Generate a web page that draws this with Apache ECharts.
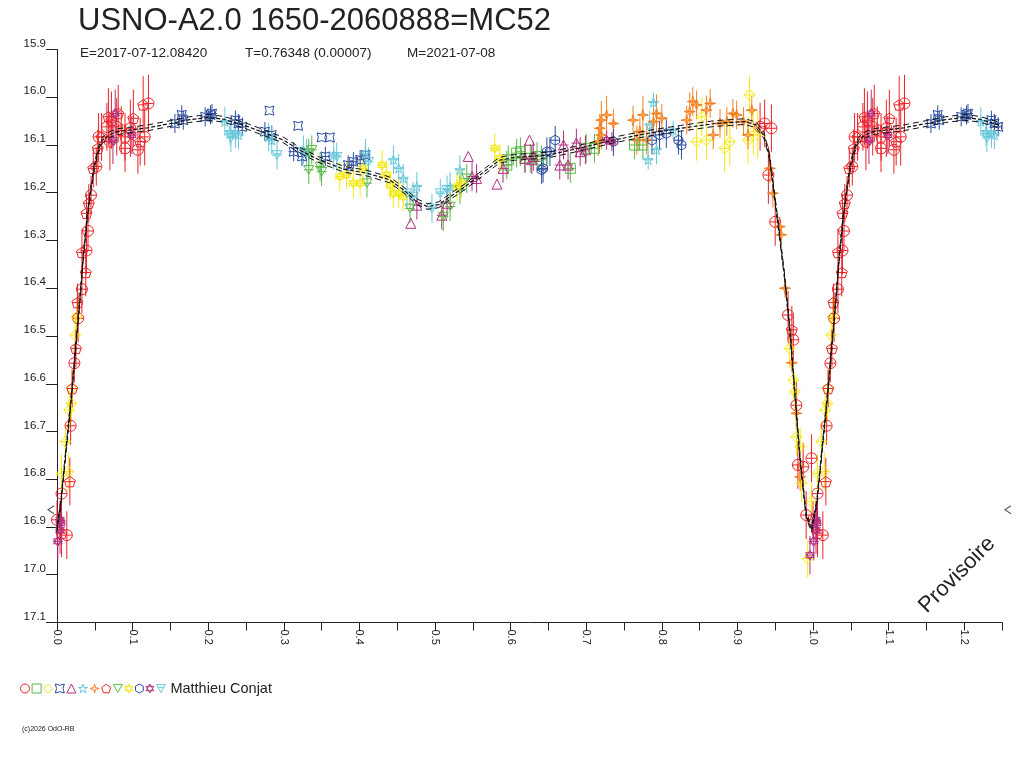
<!DOCTYPE html>
<html><head><meta charset="utf-8">
<script src="https://cdn.jsdelivr.net/npm/echarts@6/dist/echarts.min.js"></script>
<style>html,body{margin:0;padding:0;background:#fff}#c{width:1024px;height:768px}</style>
</head><body><div id="c"></div><script>
// ---- data: [phase, magnitude, error] ----
const redCircles = [
 [0.000,16.885,0.04],[0.006,16.83,0.05],[0.013,16.917,0.05],[0.018,16.688,0.04],[0.023,16.557,0.04],
 [0.028,16.463,0.05],[0.033,16.402,0.05],[0.039,16.321,0.05],[0.041,16.28,0.04],[0.045,16.205,0.04],
 [0.052,16.145,0.04],[0.055,16.083,0.05],[0.066,16.062,0.05],[0.070,16.093,0.06],[0.079,16.062,0.06],
 [0.085,16.069,0.05],[0.090,16.107,0.05],[0.097,16.065,0.06],[0.107,16.11,0.05],[0.116,16.083,0.06],
 [0.121,16.013,0.06],[0.930,16.062,0.05],[0.936,16.055,0.05],[0.945,16.065,0.05],[0.941,16.163,0.06],
 [0.950,16.261,0.05],[0.967,16.456,0.05],[0.974,16.508,0.05],[0.978,16.645,0.05],[0.980,16.77,0.05],
 [0.987,16.774,0.05],[0.991,16.875,0.05],[0.998,16.756,0.05]
];
const greenSquares = [
 [0.595,16.142,0.03],[0.597,16.131,0.03],[0.608,16.117,0.03],[0.613,16.114,0.03],[0.619,16.128,0.03],
 [0.626,16.128,0.03],[0.635,16.124,0.03],[0.641,16.131,0.03],[0.679,16.149,0.03],[0.700,16.107,0.03],
 [0.711,16.107,0.03],[0.764,16.1,0.03],[0.775,16.1,0.03]
];
const yellowDiamonds = [
 [0.006,16.788,0.04],[0.015,16.784,0.04],[0.011,16.721,0.04],[0.016,16.655,0.04],[0.019,16.641,0.04],
 [0.020,16.61,0.04],[0.024,16.498,0.04],[0.026,16.46,0.04],[0.969,16.526,0.04],[0.974,16.592,0.04],
 [0.976,16.617,0.04],[0.978,16.711,0.04],[0.983,16.732,0.04],[0.985,16.808,0.04],[0.998,16.847,0.04],
 [0.993,16.966,0.04],[0.846,16.093,0.04],[0.859,16.09,0.04],[0.853,16.041,0.04],[0.883,16.107,0.05],
 [0.890,16.093,0.05],[0.914,16.09,0.05],[0.916,15.995,0.04],[0.921,16.072,0.05],[0.927,16.079,0.05]
];
const blueAstroids = [
 [0.156,16.055,0.02],[0.165,16.037,0.02],[0.167,16.048,0.02],[0.196,16.041,0.02],[0.203,16.037,0.02],
 [0.205,16.034,0.02],[0.236,16.048,0.02],[0.240,16.055,0.02],[0.245,16.062,0.02],[0.275,16.072,0.02],
 [0.281,16.028,0],[0.284,16.079,0.02],[0.313,16.114,0.02],[0.319,16.06,0],[0.324,16.124,0.02],
 [0.350,16.084,0],[0.361,16.084,0],[0.355,16.124,0.02],[0.385,16.142,0.02],[0.392,16.135,0.02],
 [0.401,16.131,0.02],[0.408,16.121,0.02]
];
const purpleTriangles = [
 [0.468,16.264,0],[0.476,16.226,0.03],[0.509,16.247,0.03],[0.516,16.222,0.03],[0.544,16.124,0],
 [0.549,16.166,0.03],[0.555,16.17,0.03],[0.582,16.182,0],[0.590,16.149,0.03],[0.619,16.128,0.03],
 [0.625,16.09,0],[0.628,16.131,0.03],[0.630,16.124,0.03],[0.665,16.142,0.03],[0.670,16.1,0.03],
 [0.676,16.142,0.03],[0.687,16.096,0.03],[0.692,16.114,0.03],[0.699,16.11,0.03]
];
const cyanStars = [
 [0.222,16.051,0.03],[0.229,16.072,0.03],[0.236,16.076,0.03],[0.240,16.079,0.03],[0.280,16.083,0.03],
 [0.284,16.09,0.03],[0.326,16.11,0.03],[0.330,16.117,0.03],[0.366,16.121,0.03],[0.408,16.117,0.03],
 [0.445,16.131,0.03],[0.452,16.149,0.03],[0.458,16.17,0.03],[0.476,16.187,0.03],[0.520,16.187,0.03],
 [0.533,16.152,0.03],[0.782,16.131,0.02],[0.784,16.058,0.03],[0.789,16.011,0.02],[0.793,16.11,0.03],
 [0.815,16.069,0.02]
];
const orangeStars4 = [
 [0.716,16.093,0.03],[0.718,16.065,0.03],[0.720,16.048,0.04],[0.720,16.079,0.03],[0.727,16.037,0.04],
 [0.736,16.055,0.03],[0.762,16.048,0.03],[0.767,16.09,0.03],[0.771,16.072,0.03],[0.775,16.037,0.04],
 [0.780,16.09,0.03],[0.789,16.051,0.03],[0.793,16.034,0.04],[0.800,16.044,0.03],[0.833,16.048,0.03],
 [0.837,16.03,0.04],[0.841,16.009,0.03],[0.846,16.016,0.03],[0.859,16.027,0.03],[0.864,16.013,0.03],
 [0.868,16.079,0.03],[0.877,16.055,0.03],[0.886,16.051,0.03],[0.894,16.034,0.03],[0.899,16.037,0.03],
 [0.908,16.051,0.03],[0.914,16.079,0.03],[0.919,16.027,0.03],[0.943,16.149,0.03],[0.947,16.201,0.03],
 [0.956,16.271,0.02],[0.958,16.288,0.02],[0.963,16.4,0.02],[0.972,16.556,0.02],[0.978,16.662,0.02],
 [0.983,16.795,0.03]
];
const redPentagons = [
 [0.006,16.913,0.05],[0.017,16.805,0.05],[0.020,16.61,0.04],[0.025,16.526,0.04],[0.027,16.43,0.04],
 [0.038,16.367,0.05],[0.033,16.325,0.05],[0.039,16.243,0.04],[0.042,16.222,0.04],[0.048,16.149,0.04],
 [0.054,16.107,0.04],[0.059,16.083,0.05],[0.068,16.041,0.06],[0.072,16.048,0.06],[0.081,16.034,0.06],
 [0.090,16.083,0.05],[0.101,16.044,0.06],[0.110,16.093,0.05],[0.114,16.016,0.06],[0.972,16.487,0.05]
];
const greenTrianglesDown = [
 [0.333,16.117,0.03],[0.337,16.11,0.03],[0.333,16.152,0.03],[0.348,16.145,0.03],[0.350,16.156,0.03],
 [0.410,16.18,0.03],[0.467,16.233,0.03],[0.511,16.25,0.03],[0.520,16.229,0.03],[0.533,16.194,0.03],
 [0.542,16.17,0.03]
];
const yellowHexagrams = [
 [0.374,16.166,0.03],[0.383,16.163,0.03],[0.392,16.18,0.03],[0.401,16.18,0.03],[0.405,16.149,0.03],
 [0.430,16.142,0.03],[0.436,16.163,0.03],[0.441,16.184,0.03],[0.445,16.201,0.03],[0.452,16.201,0.03],
 [0.458,16.208,0.03],[0.529,16.187,0.03],[0.535,16.18,0.03],[0.579,16.107,0.03],[0.586,16.128,0.03]
];
const blueHexagons = [
 [0.641,16.152,0.03],[0.643,16.149,0.03],[0.648,16.114,0.03],[0.652,16.114,0.03],[0.659,16.09,0.03],
 [0.736,16.093,0.03],[0.787,16.09,0.03],[0.797,16.079,0.03],[0.806,16.076,0.03],[0.822,16.09,0.03],
 [0.826,16.1,0.03]
];
const purpleHexagrams = [
 [0.004,16.885,0.04],[0.004,16.906,0.05],[0.001,16.93,0.04],[0.996,16.959,0.04],[0.005,16.892,0.04],
 [0.077,16.034,0.05],[0.074,16.09,0.05],[0.099,16.079,0.04],[0.727,16.09,0.02],[0.734,16.093,0.02]
];
const cyanTrianglesDown = [
 [0.291,16.121,0.03],[0.412,16.135,0.03],[0.463,16.201,0.03],[0.471,16.208,0.03],[0.496,16.233,0.03],
 [0.507,16.201,0.03],[0.516,16.194,0.03],[0.230,16.085,0.03],[0.370,16.125,0.03]
];
// model light curve (phase, magnitude)
const curvePhase = [0.000,0.005,0.010,0.015,0.020,0.025,0.030,0.035,0.040,0.045,0.050,0.055,0.060,0.070,0.080,0.100,0.120,0.150,0.175,0.200,0.220,0.250,0.270,0.300,0.320,0.345,0.380,0.410,0.440,0.460,0.475,0.490,0.505,0.520,0.540,0.565,0.585,0.605,0.650,0.690,0.735,0.780,0.825,0.870,0.910,0.925,0.935,0.942,0.947,0.955,0.962,0.969,0.976,0.983,0.991,0.998];
const curveMag   = [16.905,16.85,16.77,16.69,16.61,16.52,16.43,16.33,16.25,16.19,16.14,16.11,16.09,16.078,16.072,16.068,16.064,16.055,16.047,16.042,16.046,16.06,16.072,16.09,16.11,16.13,16.151,16.159,16.173,16.196,16.218,16.229,16.225,16.208,16.187,16.156,16.132,16.126,16.121,16.107,16.09,16.076,16.065,16.055,16.051,16.058,16.08,16.12,16.18,16.28,16.37,16.48,16.62,16.76,16.875,16.905];
const curveSigma = 0.006;
const minMarks = [[0,16.864],[1.25,16.864]];
const xTicks = [0.0,0.1,0.2,0.3,0.4,0.5,0.6,0.7,0.8,0.9,1.0,1.1,1.2];

// ---- styles ----
const C = {red:'#ec2227',green:'#5ab946',yellow:'#f4ea10',blue:'#2d4d9e',purple:'#b22f7f',cyan:'#66c7db',orange:'#f4801f'};
const P = {
 astroid:'path://M0,0 Q50,28 100,0 Q72,50 100,100 Q50,72 0,100 Q28,50 0,0 Z',
 star5:'path://M50,0 L61.2,34.6 L97.6,34.5 L68.1,55.9 L79.4,90.5 L50,69 L20.6,90.5 L31.9,55.9 L2.4,34.5 L38.8,34.6 Z',
 star4:'path://M50,0 L60,40 L100,50 L60,60 L50,100 L40,60 L0,50 L40,40 Z',
 pent:'path://M50,0 L97.6,34.5 L79.4,90.5 L20.6,90.5 L2.4,34.5 Z',
 tdown:'path://M0,0 L100,0 L50,87 Z',
 hexa:'path://M50,0 L93.3,75 L6.7,75 Z M50,100 L6.7,25 L93.3,25 Z',
 hexagon:'path://M50,0 L93.3,25 L93.3,75 L50,100 L6.7,75 L6.7,25 Z',
 tdown2:'path://M0,0 L100,0 L50,87 Z M22,30 L78,30'
};
const defs = [
 {name:'S1', color:C.red, symbol:'circle', size:11, data:redCircles},
 {name:'S2', color:C.green, symbol:'rect', size:10, data:greenSquares},
 {name:'S3', color:C.yellow, symbol:'diamond', size:11, data:yellowDiamonds},
 {name:'S4', color:C.blue, symbol:P.astroid, size:9, data:blueAstroids},
 {name:'S5', color:C.purple, symbol:'triangle', size:10, data:purpleTriangles},
 {name:'S6', color:C.cyan, symbol:P.star5, size:10, data:cyanStars},
 {name:'S7', color:C.orange, symbol:P.star4, size:11, data:orangeStars4},
 {name:'S8', color:C.red, symbol:P.pent, size:11, data:redPentagons},
 {name:'S9', color:C.green, symbol:P.tdown, size:10, data:greenTrianglesDown},
 {name:'S10', color:C.yellow, symbol:P.hexa, size:10, data:yellowHexagrams},
 {name:'S11', color:C.blue, symbol:P.hexagon, size:10, data:blueHexagons},
 {name:'S12', color:C.purple, symbol:P.hexa, size:10, data:purpleHexagrams},
 {name:'S13', color:C.cyan, symbol:P.tdown2, size:10, data:cyanTrianglesDown}
];
// fold: observations with phase < 0.25 are repeated one cycle later
function fold(arr){ return arr.concat(arr.filter(p=>p[0]<=0.25).map(p=>[p[0]+1,p[1],p[2]])); }

const font = 'Liberation Sans, Arial, sans-serif';
const series = [];
defs.forEach(d=>{
  const pts = fold(d.data);
  series.push({
    name:d.name+'_err', type:'custom', silent:true, clip:false, z:2,
    data:pts, encode:{x:0,y:1},
    renderItem:function(params, api){
      const x=api.value(0), y=api.value(1), e=api.value(2);
      if(!e) return {type:'group', children:[]};
      const c=api.coord([x,y]), t=api.coord([x,y-e]), b=api.coord([x,y+e]);
      return {type:'group', children:[
        {type:'line', shape:{x1:c[0],y1:t[1],x2:c[0],y2:b[1]}, style:{stroke:d.color,lineWidth:1}},
        {type:'line', shape:{x1:c[0]-5,y1:c[1],x2:c[0]+5,y2:c[1]}, style:{stroke:d.color,lineWidth:1}}
      ]};
    }
  });
  series.push({
    name:d.name, type:'scatter', silent:true, clip:false, z:3,
    symbol:d.symbol, symbolSize:d.size, symbolKeepAspect:true,
    data:pts.map(p=>[p[0],p[1]]),
    itemStyle:{color:'rgba(0,0,0,0)', borderColor:d.color, borderWidth:1, opacity:1}
  });
});
const curve = curvePhase.map((ph,i)=>[ph, curveMag[i]]);
const fullCurve = curve.concat(curve.filter(p=>p[0]<=0.25).map(p=>[p[0]+1,p[1]]));
series.push({type:'line', silent:true, z:5, showSymbol:false, symbol:'none', data:fullCurve,
  lineStyle:{color:'#111', width:1.2, type:[4,2]}});
series.push({type:'line', silent:true, z:5, showSymbol:false, symbol:'none', data:fullCurve.map(p=>[p[0],p[1]-curveSigma]),
  lineStyle:{color:'#111', width:1, type:[6,4]}});
series.push({type:'line', silent:true, z:5, showSymbol:false, symbol:'none', data:fullCurve.map(p=>[p[0],p[1]+curveSigma]),
  lineStyle:{color:'#111', width:1, type:[6,4]}});
series.push({type:'scatter', silent:true, clip:false, z:6,
  symbol:'path://M100,0 L0,50 L100,100', symbolSize:[6,8],
  data:[{value:minMarks[0], symbolOffset:[-6,0]},{value:minMarks[1], symbolOffset:[6,0]}],
  itemStyle:{color:'rgba(0,0,0,0)', borderColor:'#222', borderWidth:1}});

const chart = echarts.init(document.getElementById('c'));
chart.setOption({
  animation:false,
  backgroundColor:'#fff',
  textStyle:{fontFamily:font},
  title:[
    {text:'USNO-A2.0 1650-2060888=MC52', left:73, top:1, textStyle:{fontSize:31, fontWeight:'normal', color:'#222', fontFamily:font}},
    {text:'E=2017-07-12.08420', left:75, top:41, textStyle:{fontSize:13.5, fontWeight:'normal', color:'#222', fontFamily:font}},
    {text:'T=0.76348 (0.00007)', left:240, top:41, textStyle:{fontSize:13.5, fontWeight:'normal', color:'#222', fontFamily:font}},
    {text:'M=2021-07-08', left:402, top:41, textStyle:{fontSize:13.5, fontWeight:'normal', color:'#222', fontFamily:font}},
    {text:'(c)2026 OdO-RB', left:17, top:721, textStyle:{fontSize:7, fontWeight:'normal', color:'#222', fontFamily:font}}
  ],
  legend:{
    left:15, top:676, itemWidth:9, itemHeight:9, itemGap:1.6, selectedMode:false,
    data:defs.map(d=>({name:d.name, icon:d.symbol, itemStyle:{color:'rgba(0,0,0,0)', borderColor:d.color, borderWidth:1}})),
    formatter:n=> n==='S13' ? 'Matthieu Conjat' : '',
    textStyle:{fontSize:14.5, color:'#222', fontFamily:font}
  },
  grid:{left:57, right:22, top:49.5, bottom:145.5, containLabel:false},
  xAxis:{type:'value', min:0, max:1.25, interval:0.05,
    axisLine:{show:true, onZero:false, lineStyle:{color:'#222', width:1}},
    axisTick:{show:true, length:8, lineStyle:{color:'#222'}},
    splitLine:{show:false},
    axisLabel:{rotate:-90, fontSize:11, color:'#222', margin:7, padding:[0,0,12,0],
      formatter:v=>{ const r=Math.round(v*100)/100; return xTicks.some(t=>Math.abs(t-r)<1e-6) ? r.toFixed(1) : ''; }}
  },
  yAxis:{type:'value', inverse:true, min:15.9, max:17.1, interval:0.1,
    axisLine:{show:true, lineStyle:{color:'#222', width:1}},
    axisTick:{show:true, length:11, lineStyle:{color:'#222'}},
    splitLine:{show:false},
    axisLabel:{fontSize:11.5, color:'#222', margin:11, verticalAlign:'bottom', formatter:v=>v.toFixed(1)}
  },
  graphic:[
    {type:'text', x:957, y:575, rotation:Math.PI/4,
     style:{text:'Provisoire', fontSize:22, fontFamily:font, fill:'#222', align:'center', verticalAlign:'middle'}}
  ],
  series:series
});
</script></body></html>
